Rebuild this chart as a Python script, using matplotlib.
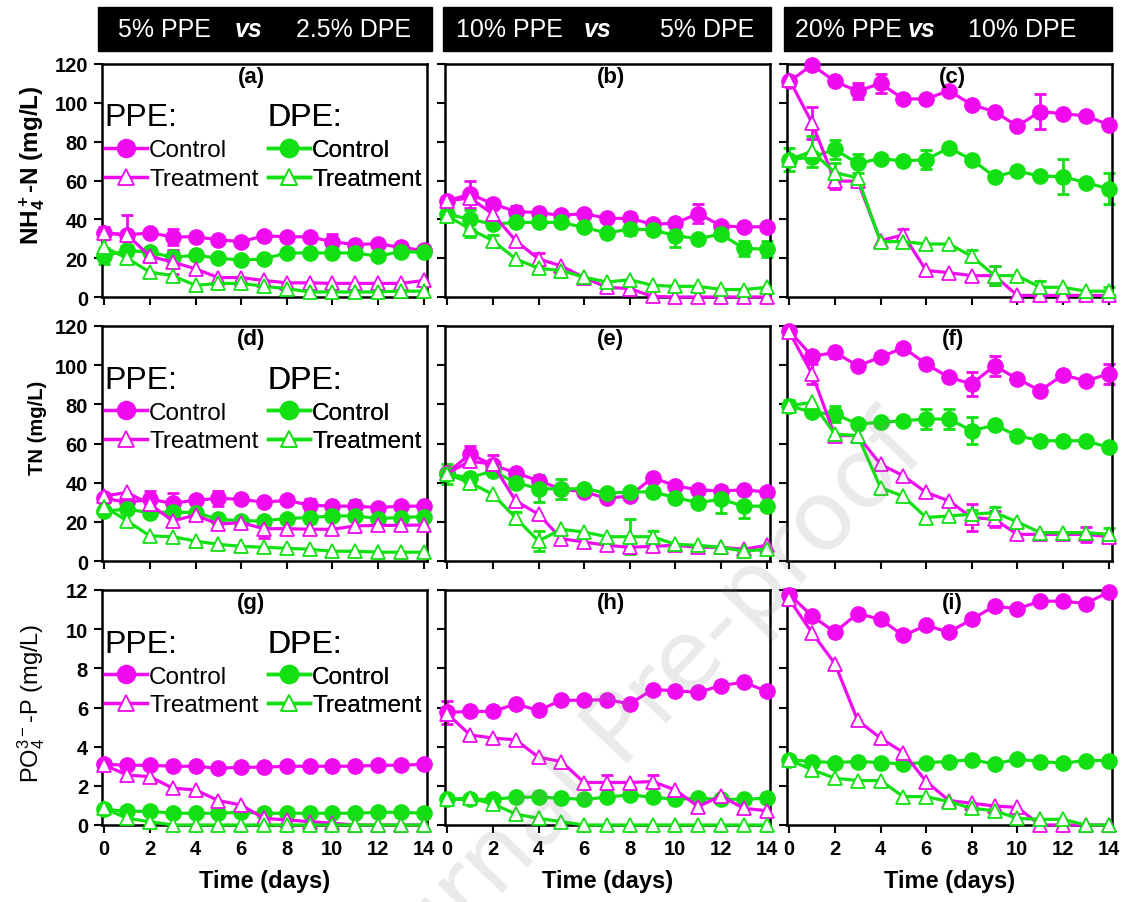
import numpy as np
import matplotlib
matplotlib.use("Agg")
import matplotlib.pyplot as plt
from matplotlib.lines import Line2D
from matplotlib.patches import Rectangle

plt.rcParams['font.family'] = ['Liberation Sans', 'DejaVu Sans']
plt.rcParams['mathtext.default'] = 'regular'

days = np.arange(15)

# ---- NH4+-N (mg/L) ----
a_ppe_c = [33, 32, 33, 31, 31, 29.5, 28.5, 31.5, 31, 31, 28.5, 27, 27.5, 25.5, 24]
a_ppe_t = [33, 32, 21, 18, 14.5, 10, 10, 8.5, 7.3, 7.3, 7, 7, 7, 7, 8.5]
a_dpe_c = [21, 24, 23, 20.5, 21.5, 20, 19, 19.6, 22.7, 22.7, 22.7, 22.7, 21, 23.4, 23]
a_dpe_t = [25.6, 20, 12.8, 11, 6, 7, 7, 5.5, 4.3, 2.6, 2.6, 2.6, 2.6, 3, 3]
a_ppe_c_err = [3, 10, 0, 4, 0, 0, 0, 0, 0, 0, 4, 0, 0, 0, 0]
a_ppe_t_err = [0, 0, 3, 6, 0, 0, 0, 0, 0, 0, 0, 0, 0, 0, 0]
a_dpe_c_err = [4, 3, 0, 3, 0, 0, 0, 0, 0, 0, 0, 0, 0, 0, 0]

b_ppe_c = [49.5, 53, 48, 44, 43.5, 42, 43, 40.5, 40.5, 37.5, 38, 43, 36.7, 36, 36.3]
b_ppe_t = [49.5, 51, 42.7, 29, 19.6, 16, 10, 5, 4.3, 0.3, 0, 0, 0, 0, 0]
b_dpe_c = [42.7, 40, 37.5, 38.4, 38.4, 38.4, 35.8, 33, 35, 34.6, 31.6, 30, 32.4, 25, 24.7]
b_dpe_t = [41.8, 35, 29, 19.6, 14.8, 13.6, 10.2, 7.7, 8.9, 6, 5.5, 5.5, 3.9, 3.8, 5]
b_ppe_c_err = [0, 7, 0, 3, 0, 0, 0, 0, 3, 0, 0, 5, 0, 0, 0]
b_ppe_t_err = [0, 0, 0, 0, 3, 0, 0, 0, 0, 0, 0, 0, 0, 0, 0]
b_dpe_c_err = [0, 5, 0, 0, 0, 0, 0, 0, 3, 0, 6, 0, 0, 4, 4]
b_dpe_t_err = [0, 4, 3, 0, 0, 0, 0, 0, 0, 0, 0, 0, 0, 0, 0]

c_ppe_c = [111, 119.5, 111, 106, 110, 102, 102, 106.3, 99, 95.5, 88, 95.5, 94.4, 93.3, 88.7]
c_ppe_t = [112, 89.6, 59.7, 59.7, 29, 32, 13.7, 12.5, 11, 11, 0.8, 0.8, 0.8, 0.8, 0.8]
c_dpe_c = [70.8, 72, 76, 68.8, 71.3, 70, 70.8, 76.8, 70.8, 62, 64.8, 62.3, 62, 58.9, 55.8]
c_dpe_t = [70.8, 75, 64, 61.4, 28.5, 28.5, 27.3, 27.3, 21, 11, 11, 5, 5, 3, 3]
c_ppe_c_err = [0, 0, 0, 4, 5, 0, 0, 0, 0, 0, 0, 9, 0, 0, 0]
c_ppe_t_err = [0, 8, 4, 0, 0, 3, 0, 0, 0, 5, 0, 0, 0, 0, 0]
c_dpe_c_err = [0, 0, 5, 5, 0, 0, 5, 0, 0, 0, 0, 0, 9, 0, 8]
c_dpe_t_err = [6, 8, 5, 0, 0, 0, 0, 0, 3, 5, 0, 3, 0, 0, 2]

# ---- TN (mg/L) ----
d_ppe_c = [32, 30, 31.5, 29.5, 31, 32, 31.5, 30, 31, 28.5, 28, 28, 27.3, 28, 28]
d_ppe_t = [33.2, 35, 29, 20.5, 23.4, 18.8, 19.6, 16.5, 16.5, 16.2, 16.2, 17.9, 18.2, 18.2, 18.4]
d_dpe_c = [25.6, 26.4, 24.7, 25, 24.7, 21.3, 20.5, 20.5, 21.7, 22.2, 23, 23, 21.7, 22.2, 22.7]
d_dpe_t = [27.8, 20.5, 12.8, 12.4, 10.2, 8.5, 7.5, 7, 6.5, 6, 5, 5, 4.5, 4.5, 4.5]
d_ppe_c_err = [0, 0, 4, 5, 0, 4, 0, 0, 0, 3, 0, 0, 0, 0, 0]
d_ppe_t_err = [0, 0, 0, 0, 0, 0, 0, 5, 0, 0, 0, 0, 0, 0, 0]
d_dpe_c_err = [0, 0, 0, 3, 0, 0, 0, 0, 0, 0, 0, 8, 0, 0, 0]
d_dpe_t_err = [3, 0, 0, 0, 0, 0, 0, 0, 0, 0, 0, 0, 0, 0, 0]

e_ppe_c = [45, 54.6, 49, 45, 41, 36.7, 35.3, 32, 33.2, 42.6, 38.4, 36.3, 35.8, 36.3, 35.3]
e_ppe_t = [44.8, 51, 49.4, 30.7, 23.9, 11.4, 9.7, 8, 7, 7.5, 8, 7, 7, 6, 8]
e_dpe_c = [44.3, 42.6, 46, 40, 37, 36.7, 37, 34.6, 35.3, 35.3, 32.4, 29.8, 31.5, 28, 28]
e_dpe_t = [44.3, 40, 34, 22, 10.2, 16.2, 14.8, 12.4, 12.4, 12.4, 8.5, 8, 7, 5, 6]
e_ppe_c_err = [0, 4, 5, 0, 0, 0, 0, 0, 0, 0, 0, 0, 0, 0, 0]
e_dpe_c_err = [5, 0, 0, 0, 7, 5, 0, 0, 0, 0, 0, 0, 7, 6, 0]
e_dpe_t_err = [0, 0, 0, 3, 5, 0, 0, 0, 9, 3, 0, 0, 0, 0, 0]

f_ppe_c = [117.6, 104.5, 106.5, 99.7, 104, 109, 100.6, 93.8, 90.4, 99.7, 93, 87, 95, 92, 95.5]
f_ppe_t = [117, 95.5, 64, 64, 49.4, 43.5, 35, 30.7, 22.2, 21.3, 13.6, 13.6, 13.6, 13.6, 12.4]
f_dpe_c = [79.3, 75.9, 75, 70, 70.8, 71.6, 72.5, 72.5, 66.5, 69.4, 64, 61.4, 61.4, 61.4, 58]
f_dpe_t = [79.3, 81, 64.8, 64, 37.5, 33, 22.2, 23, 23.9, 24.7, 20, 14.5, 14.5, 14.5, 13.6]
f_ppe_c_err = [0, 0, 3, 0, 0, 0, 0, 0, 6, 5, 0, 0, 0, 0, 5]
f_ppe_t_err = [0, 5, 0, 0, 0, 0, 0, 0, 7, 4, 0, 0, 0, 4, 0]
f_dpe_c_err = [3, 0, 4, 0, 0, 0, 5, 5, 7, 0, 0, 0, 0, 0, 0]
f_dpe_t_err = [0, 0, 0, 0, 0, 0, 0, 0, 2, 3, 0, 0, 0, 0, 3]

# ---- PO4 3- -P (mg/L) ----
g_ppe_c = [3.1, 3.05, 3.05, 3.0, 3.0, 2.9, 2.95, 2.95, 3.0, 3.0, 3.0, 3.0, 3.05, 3.05, 3.1]
g_ppe_t = [3.07, 2.55, 2.47, 1.88, 1.79, 1.25, 1.02, 0.34, 0.26, 0.17, 0.09, 0, 0, 0, 0]
g_dpe_c = [0.8, 0.7, 0.7, 0.6, 0.6, 0.6, 0.65, 0.6, 0.6, 0.6, 0.6, 0.6, 0.65, 0.65, 0.6]
g_dpe_t = [0.85, 0.34, 0.17, 0, 0, 0, 0, 0, 0, 0, 0, 0, 0, 0, 0]

h_ppe_c = [5.75, 5.8, 5.8, 6.18, 5.85, 6.37, 6.37, 6.4, 6.19, 6.91, 6.86, 6.77, 7.12, 7.29, 6.83]
h_ppe_t = [5.68, 4.6, 4.44, 4.35, 3.46, 3.24, 2.17, 2.17, 2.17, 2.22, 1.79, 0.94, 1.48, 0.85, 0.73]
h_dpe_c = [1.31, 1.31, 1.31, 1.42, 1.42, 1.37, 1.31, 1.42, 1.54, 1.42, 1.31, 1.37, 1.31, 1.31, 1.37]
h_dpe_t = [1.31, 1.37, 1.08, 0.56, 0.34, 0.17, 0, 0, 0, 0, 0, 0, 0, 0, 0]
h_ppe_c_err = [0.6, 0, 0, 0, 0, 0, 0, 0, 0, 0, 0, 0, 0, 0, 0]
h_ppe_t_err = [0, 0, 0, 0, 0, 0, 0, 0.4, 0, 0.35, 0, 0, 0, 0, 0]

i_ppe_c = [11.77, 10.67, 9.85, 10.8, 10.5, 9.68, 10.19, 9.85, 10.5, 11.18, 11.04, 11.43, 11.43, 11.31, 11.89]
i_ppe_t = [11.52, 9.81, 8.24, 5.34, 4.44, 3.7, 2.22, 1.25, 1.11, 0.97, 0.9, 0, 0, 0, 0]
i_dpe_c = [3.33, 3.24, 3.19, 3.24, 3.19, 3.12, 3.19, 3.24, 3.33, 3.12, 3.36, 3.24, 3.16, 3.29, 3.29]
i_dpe_t = [3.33, 2.82, 2.39, 2.27, 2.27, 1.45, 1.45, 1.19, 0.85, 0.73, 0.34, 0.29, 0.29, 0, 0]
i_ppe_c_err = [0.3, 0, 0, 0, 0, 0, 0, 0, 0, 0, 0, 0, 0, 0, 0]
i_ppe_t_err = [0.3, 0, 0, 0, 0, 0, 0, 0, 0, 0, 0, 0, 0, 0, 0]

headers = [("5% PPE", "2.5% DPE"), ("10% PPE", "5% DPE"), ("20% PPE", "10% DPE")]
panel_labels = ["(a)", "(b)", "(c)", "(d)", "(e)", "(f)", "(g)", "(h)", "(i)"]
row_ylabels = [r"NH$_4^+$-N (mg/L)", "TN (mg/L)", r"PO$_4^{3-}$-P (mg/L)"]

panels = [
    (a_ppe_c, a_ppe_t, a_dpe_c, a_dpe_t, a_ppe_c_err, a_ppe_t_err, a_dpe_c_err, None),
    (b_ppe_c, b_ppe_t, b_dpe_c, b_dpe_t, b_ppe_c_err, b_ppe_t_err, b_dpe_c_err, b_dpe_t_err),
    (c_ppe_c, c_ppe_t, c_dpe_c, c_dpe_t, c_ppe_c_err, c_ppe_t_err, c_dpe_c_err, c_dpe_t_err),
    (d_ppe_c, d_ppe_t, d_dpe_c, d_dpe_t, d_ppe_c_err, d_ppe_t_err, d_dpe_c_err, d_dpe_t_err),
    (e_ppe_c, e_ppe_t, e_dpe_c, e_dpe_t, e_ppe_c_err, None, e_dpe_c_err, e_dpe_t_err),
    (f_ppe_c, f_ppe_t, f_dpe_c, f_dpe_t, f_ppe_c_err, f_ppe_t_err, f_dpe_c_err, f_dpe_t_err),
    (g_ppe_c, g_ppe_t, g_dpe_c, g_dpe_t, None, None, None, None),
    (h_ppe_c, h_ppe_t, h_dpe_c, h_dpe_t, h_ppe_c_err, h_ppe_t_err, None, None),
    (i_ppe_c, i_ppe_t, i_dpe_c, i_dpe_t, i_ppe_c_err, i_ppe_t_err, None, None),
]

MAG = '#f00af0'
GRN = '#12e012'

W, H = 1125, 903
fig = plt.figure(figsize=(11.25, 9.03), dpi=100)

col_left = [102, 445, 787]
col_w = 325
row_top = [65, 327, 591]
row_h = [233, 235, 235]


def draw_series(ax, y, err, color, marker):
    y = np.asarray(y, dtype=float)
    if marker == 'o':
        ax.plot(days, y, '-', color=color, lw=2.3, marker='o', ms=11,
                mfc=color, mec=color, clip_on=False, zorder=3)
    else:
        ax.plot(days, y, '-', color=color, lw=2.3, marker='^', ms=10.5,
                mfc='white', mec=color, mew=1.3, clip_on=False, zorder=4)
    if err is not None:
        e = np.asarray(err, dtype=float)
        m = e > 0
        ax.errorbar(days[m], y[m], yerr=e[m], fmt='none', ecolor=color,
                    elinewidth=2, capsize=4, capthick=2, zorder=2, clip_on=False)


for k, data in enumerate(panels):
    r, c = divmod(k, 3)
    ax = fig.add_axes([col_left[c] / W, 1 - (row_top[r] + row_h[r]) / H,
                       col_w / W, row_h[r] / H])
    ppe_c, ppe_t, dpe_c, dpe_t, e1, e2, e3, e4 = data
    draw_series(ax, ppe_c, e1, MAG, 'o')
    draw_series(ax, dpe_c, e3, GRN, 'o')
    draw_series(ax, ppe_t, e2, MAG, '^')
    draw_series(ax, dpe_t, e4, GRN, '^')

    ax.set_xlim(-0.1, 14.15)
    ax.set_xticks(range(0, 15, 2))
    if r < 2:
        ax.set_ylim(0, 120)
        ax.set_yticks(range(0, 121, 20))
    else:
        ax.set_ylim(0, 12)
        ax.set_yticks(range(0, 13, 2))
    for s in ax.spines.values():
        s.set_linewidth(1.8)
    ax.tick_params(direction='out', length=6, width=1.5, labelsize=14.5, pad=4)
    if c > 0:
        ax.set_yticklabels([])
    if r < 2:
        ax.set_xticklabels([])
    for lbl in ax.get_xticklabels() + ax.get_yticklabels():
        lbl.set_fontweight('bold')

    lx = 0.46 if c == 0 else 0.51
    ax.text(lx, 0.945, panel_labels[k], transform=ax.transAxes, ha='center',
            va='center', fontsize=16, fontweight='bold', zorder=6)

    if r == 2:
        ax.set_xlabel("Time (days)", fontsize=17, fontweight='bold', labelpad=8)

    if c == 0:
        if r == 0:
            ax.set_ylabel(row_ylabels[r], fontsize=17.5, fontweight='bold')
            ax.yaxis.set_label_coords(-0.17, 0.57)
        elif r == 1:
            ax.set_ylabel(row_ylabels[r], fontsize=14.5, fontweight='bold')
            ax.yaxis.set_label_coords(-0.17, 0.57)
        else:
            ax.set_ylabel(row_ylabels[r], fontsize=17)
            ax.yaxis.set_label_coords(-0.17, 0.52)

        for grp, color, xa in (("PPE:", MAG, 0.008), ("DPE:", GRN, 0.51)):
            hs = [Line2D([], [], color=color, lw=2.5, marker='o', ms=13, mfc=color, mec=color),
                  Line2D([], [], color=color, lw=2.5, marker='^', ms=12, mfc='white', mec=color, mew=1.3)]
            leg = ax.legend(hs, ["Control", "Treatment"], title=grp, loc='upper left',
                            bbox_to_anchor=(xa, 0.835), frameon=False, fontsize=17.5,
                            title_fontsize=23, handlelength=1.75, handletextpad=0.08,
                            labelspacing=0.28, borderpad=0, borderaxespad=0,
                            alignment='left')
            ax.add_artist(leg)

# header boxes
box_x = [(98, 432), (443, 771), (784, 1112)]
txt_x = [(164, 249, 354), (509, 598, 707), (848, 922, 1022)]
for (x0, x1), (t1, t2), (p1, p2, p3) in zip(box_x, headers, txt_x):
    fig.patches.append(Rectangle((x0 / W, 1 - 52 / H), (x1 - x0) / W, 44 / H,
                                 transform=fig.transFigure, color='black', zorder=0))
    yc = 1 - 30 / H
    fig.text(p1 / W, yc, t1, color='white', fontsize=18, ha='center', va='center')
    fig.text(p2 / W, yc, "vs", color='white', fontsize=18, ha='center', va='center',
             fontweight='bold', style='italic')
    fig.text(p3 / W, yc, t2, color='white', fontsize=18, ha='center', va='center')

# faint watermark
fig.text(630 / W, 1 - 728 / H, "Journal Pre-proof", fontsize=70, color='#888888',
         alpha=0.18, rotation=46, ha='center', va='center', zorder=20,
         family=['DejaVu Sans'])

fig.savefig("out.png", dpi=100)
